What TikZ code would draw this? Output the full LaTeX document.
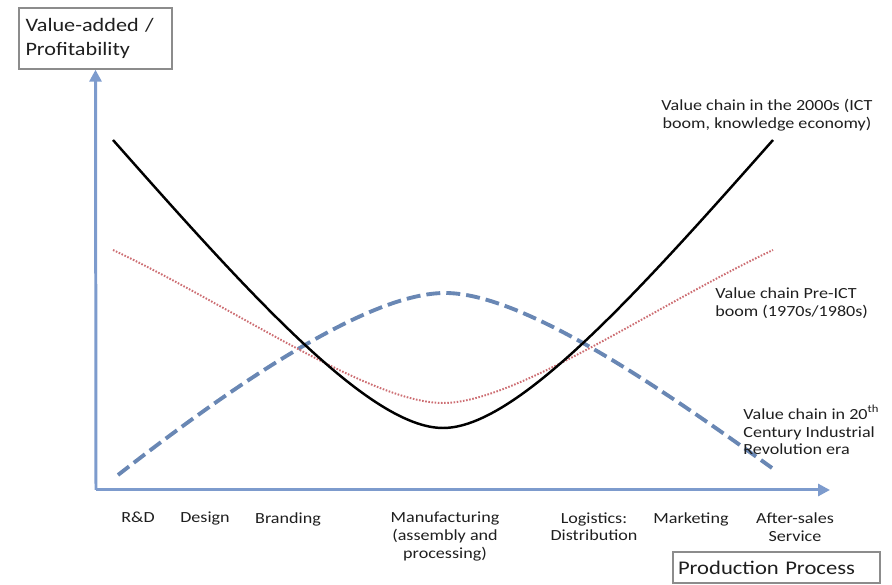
\documentclass[tikz,border=0pt]{standalone}
\usepackage{fontspec}
\setmainfont{Carlito}[FakeStretch=1.17]
\usepackage{xcolor}
\usepackage{tikz}
\usetikzlibrary{arrows.meta}

\definecolor{axisblue}{RGB}{125,155,205}
\definecolor{dashblue}{RGB}{105,135,180}
\definecolor{dotred}{RGB}{205,110,115}
\definecolor{boxgray}{RGB}{140,140,140}

\begin{document}
\begin{tikzpicture}[
    axisline/.style={draw=axisblue, line width=1.7pt, -{Triangle[length=0.24cm,width=0.24cm]}},
    chainnew/.style={draw=black, line width=1.4pt},
    chainpre/.style={draw=dotred, line width=1.1pt, dash pattern=on 0.9pt off 0.9pt},
    chainold/.style={draw=dashblue, line width=2.2pt, dash pattern=on 0.28cm off 0.12cm},
    lbl/.style={font=\fontsize{8.8}{10.2}\selectfont, text=black!88, inner sep=0pt},
    titlebox/.style={draw=boxgray, line width=0.8pt, font=\fontsize{10.8}{13.6}\selectfont, text=black!88, align=left}
]
            \useasboundingbox (0,0) rectangle (17.84,11.70);

            % axes
            \node[titlebox, text width=2.8cm, inner xsep=0.13cm, minimum height=1.22cm] (ylab) at (1.91,10.93) {Value-added /\\Profitability};
            \node[titlebox, text width=3.94cm, inner xsep=0.1cm, minimum height=0.62cm, font=\fontsize{11}{13}\selectfont] (prod) at (15.53,0.35) {Production Process};
            \coordinate (origin) at (1.92,1.90);
            \coordinate (xend) at (16.60,1.90);
            \draw[axisline] (origin) -- (ylab.south); % profitability
            \draw[axisline] (origin) -- (xend); % production process

            % the three value chains
            \draw[chainold] (2.36,2.20) .. controls (4.80,4.10) and (7.40,5.84) .. (8.90,5.84)
                .. controls (10.40,5.84) and (13.00,4.10) .. (15.44,2.34); % 20th century
            \draw[chainpre] (2.26,6.70) .. controls (4.60,5.60) and (7.40,3.64) .. (8.86,3.64)
                .. controls (10.32,3.64) and (13.12,5.60) .. (15.46,6.70); % pre-ICT
            \draw[chainnew] (2.26,8.90) .. controls (5.00,5.80) and (7.40,3.14) .. (8.86,3.14)
                .. controls (10.32,3.14) and (12.72,5.80) .. (15.46,8.90); % 2000s

            \node[lbl, align=center] (lnew) at (15.34,9.40) {Value chain in the 2000s (ICT\\boom, knowledge economy)};
            \node[lbl, align=left, anchor=west] (lpre) at (14.30,5.64) {Value chain Pre-ICT\\boom (1970s/1980s)};
            \node[lbl, align=left, anchor=west] (lold) at (14.86,3.10) {Value chain in 20\textsuperscript{th}\\Century Industrial\\Revolution era};

            % stages
            \node[lbl, anchor=north] (rnd) at (2.76,1.46) {R\&D};
            \node[lbl, anchor=north] (design) at (4.10,1.46) {Design};
            \node[lbl, anchor=north] (brand) at (5.76,1.46) {Branding};
            \node[lbl, anchor=north, align=center] (manuf) at (8.90,1.46) {Manufacturing\\(assembly and\\processing)};
            \node[lbl, anchor=north, align=center] (logist) at (11.88,1.46) {Logistics:\\Distribution};
            \node[lbl, anchor=north] (market) at (13.82,1.46) {Marketing};
            \node[lbl, anchor=north, align=center] (after) at (15.90,1.46) {After-sales\\Service};
        \end{tikzpicture}
\end{document}
